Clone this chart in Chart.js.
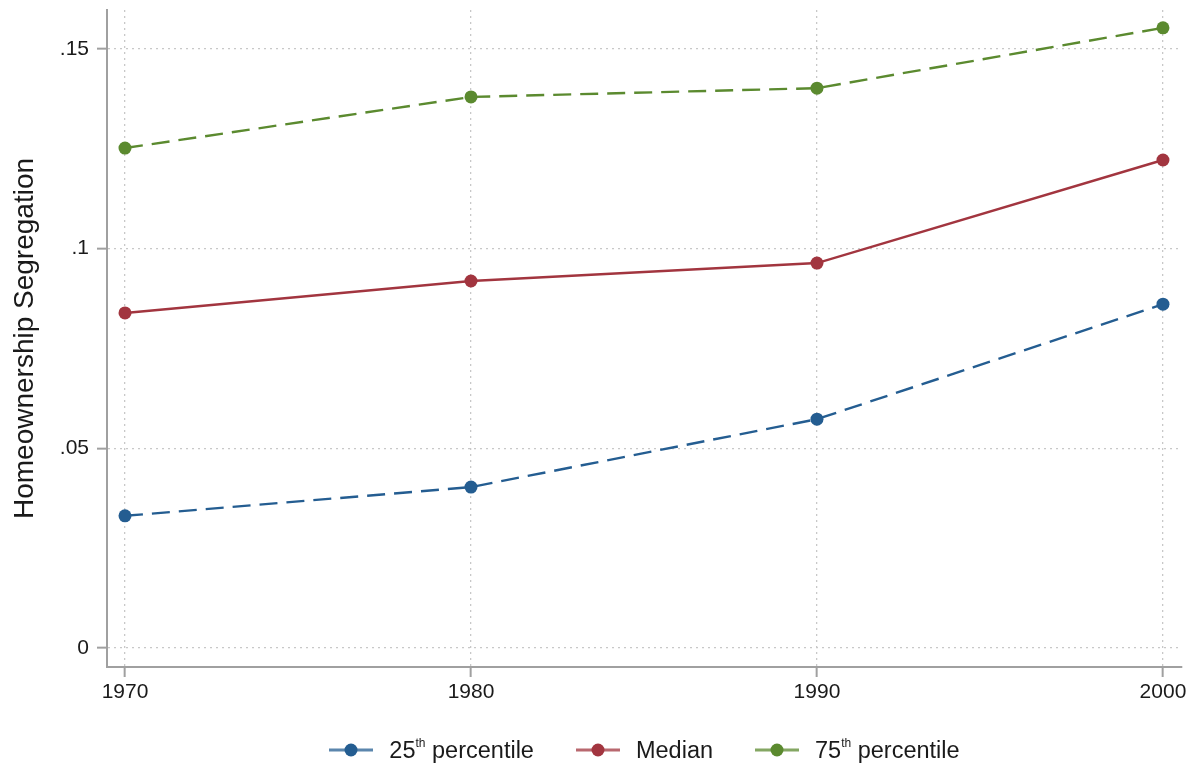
<!DOCTYPE html>
<html>
<head>
<meta charset="utf-8">
<script src="https://cdn.jsdelivr.net/npm/chart.js@4"></script>
<style>
  body { margin: 0; background: #fff; }
  #wrap { position: relative; width: 1200px; height: 768px; }
  #legend { position: absolute; left: 107px; width: 1075px; top: 736px; height: 28px; display: flex; justify-content: center;
            font-family: "Liberation Sans", Arial, sans-serif; font-size: 23.5px; line-height: 28px; color: #1a1a1a; }
  .item { display: flex; align-items: center; margin: 0 21px; }
  .item svg { margin-right: 16px; }
  sup { font-size: 12px; vertical-align: 11px; line-height: 0; }
</style>
</head>
<body>
<div id="wrap">
  <canvas id="chart" width="1200" height="768"></canvas>
  <div id="legend"></div>
</div>
<script>
const years = [1970, 1980, 1990, 2000];
const p25 = [0.0331, 0.0403, 0.0573, 0.0861];
const median = [0.0839, 0.0919, 0.0964, 0.1222];
const p75 = [0.1252, 0.1380, 0.1402, 0.1553];
const yTicks = [0, 0.05, 0.1, 0.15];
const yTickLabels = ['0', '.05', '.1', '.15'];

const series = [
  { label: '25', sup: 'th', after: ' percentile', values: p25, color: '#245d91', dash: [18, 9] },
  { label: 'Median', sup: '', after: '', values: median, color: '#a2353f', dash: [] },
  { label: '75', sup: 'th', after: ' percentile', values: p75, color: '#5b8a2f', dash: [18, 9] }
];

const fontFamily = '"Liberation Sans", Arial, sans-serif';

new Chart(document.getElementById('chart').getContext('2d'), {
  type: 'line',
  data: {
    datasets: series.map(s => ({
      label: s.label + s.sup + s.after,
      data: years.map((yr, i) => ({ x: yr, y: s.values[i] })),
      borderColor: s.color,
      backgroundColor: s.color,
      pointBackgroundColor: s.color,
      pointBorderWidth: 0,
      pointRadius: 6.5,
      borderWidth: 2.4,
      borderDash: s.dash,
      tension: 0
    }))
  },
  options: {
    responsive: false,
    animation: false,
    layout: { padding: { top: 10, right: 18, left: 0, bottom: 0 } },
    plugins: { legend: { display: false }, tooltip: { enabled: false } },
    scales: {
      x: {
        type: 'linear',
        min: 1969.48,
        max: 2000.55,
        afterBuildTicks: axis => { axis.ticks = years.map(v => ({ value: v })); },
        afterFit: axis => { axis.height = 101; },
        ticks: { color: '#1a1a1a', font: { family: fontFamily, size: 21 }, padding: 3, callback: v => String(v) },
        grid: { color: '#c8c8c8', lineWidth: 1.3, tickLength: 10, tickColor: '#a0a0a0', tickWidth: 2, tickBorderDash: [] },
        border: { color: '#a0a0a0', width: 2, dash: [2, 4] }
      },
      y: {
        min: -0.00476,
        max: 0.15977,
        afterBuildTicks: axis => { axis.ticks = yTicks.map(v => ({ value: v })); },
        afterFit: axis => { axis.width = 107; axis.paddingTop = 0; axis.paddingBottom = 0; },
        ticks: {
          color: '#1a1a1a', font: { family: fontFamily, size: 21 }, padding: 8,
          callback: v => yTickLabels[yTicks.findIndex(t => Math.abs(t - v) < 1e-9)]
        },
        grid: { color: '#c8c8c8', lineWidth: 1.3, tickLength: 10, tickColor: '#a0a0a0', tickWidth: 2, tickBorderDash: [] },
        border: { color: '#a0a0a0', width: 2, dash: [2, 4] },
        title: {
          display: true, text: 'Homeownership Segregation', color: '#1a1a1a',
          font: { family: fontFamily, size: 28 }, padding: { top: 8, bottom: 0 }
        }
      }
    }
  }
});

// HTML legend so the "th" can be a real superscript
const legend = document.getElementById('legend');
series.forEach(s => {
  const item = document.createElement('div');
  item.className = 'item';
  item.innerHTML =
    '<svg width="44" height="14"><line x1="0" y1="7" x2="44" y2="7" stroke="' + s.color + '" stroke-opacity="0.75" stroke-width="3"/>' +
    '<circle cx="22" cy="7" r="6.5" fill="' + s.color + '"/></svg>' +
    '<span>' + s.label + (s.sup ? '<sup>' + s.sup + '</sup>' : '') + s.after + '</span>';
  legend.appendChild(item);
});
</script>
</body>
</html>
